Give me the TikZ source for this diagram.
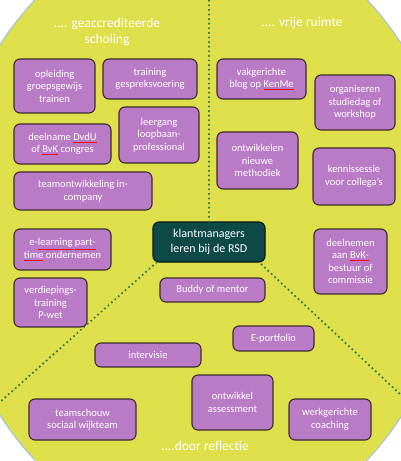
\documentclass[tikz,border=0pt]{standalone}
\usepackage{fontspec}
\setmainfont{Carlito}
\definecolor{bgyellow}{HTML}{DEDF4B}
\definecolor{edgeblue}{HTML}{9CC3E5}
\definecolor{boxpurple}{HTML}{B97BC5}
\definecolor{boxedge}{HTML}{3B2B2E}
\definecolor{centerteal}{HTML}{0D4A47}
\definecolor{dotgreen}{HTML}{2F7A4A}
\newcommand\sq[1]{{\color{red}$\underline{\hbox{\color{white}#1}}$}}
\newcommand\mybox[6]{\node[pbox, minimum width={(#4-#2)*1pt}, minimum height={(#5-#3)*1pt}] (#1) at ({(#2+#4)/2},{(#3+#5)/2}) {#6};}
\begin{document}
\begin{tikzpicture}[x=1pt,y=-1pt,
  pbox/.style={draw=boxedge, line width=1.1pt, fill=boxpurple, rounded corners=6pt,
    inner sep=1pt, align=center, text=white, font=\fontsize{10.5}{12.5}\selectfont},
  cbox/.style={draw=black!70!centerteal, line width=1.1pt, fill=centerteal, rounded corners=6pt,
    inner sep=1pt, align=center, text=white, font=\fontsize{12}{15}\selectfont},
  dotline/.style={dotgreen, line width=2.4pt, line cap=round, dash pattern=on 0pt off 4.6pt},
  header/.style={text=white, align=center, font=\fontsize{13.5}{16}\selectfont}]
\useasboundingbox (0,0) rectangle (401,461);
\fill[white] (0,0) rectangle (401,461);
\begin{scope}
\clip (0,0) rectangle (401,461);
\fill[bgyellow] (201,230) ellipse [x radius=253pt, y radius=305pt];
\draw[edgeblue, line width=1pt] (201,230) ellipse [x radius=253pt, y radius=305pt];
\end{scope}

\node[cbox, minimum width=112pt, minimum height=40pt] (cb) at (209,242) {klantmanagers\\leren bij de RSD};

\coordinate (topend) at (209,0);
\coordinate (leftend) at (0,402);
\coordinate (rightend) at (401,395);
\begin{scope}
\clip (201,230) ellipse [x radius=252pt, y radius=304pt];
\draw[dotline] (cb.north) -- (topend);
\draw[dotline] ([xshift=4pt]cb.south west) -- (leftend);
\draw[dotline] ([xshift=-4pt,yshift=-2pt]cb.south east) -- (rightend);
\end{scope}

\node[header] (h1) at (107,32) {.... geaccrediteerde\\scholing};
\node[header] (h2) at (302,23) {.... vrije ruimte};
\node[header] (h3) at (205,446) {....door reflectie};

\mybox{b1}{14}{59}{95}{113}{opleiding\\groepsgewijs\\trainen}
\mybox{b2}{103}{59}{197}{99}{training\\gespreksvoering}
\mybox{b3}{14}{124}{111}{164}{deelname \sq{DvdU}\\of \sq{BvK} congres}
\mybox{b4}{119}{107}{199}{163}{leergang\\loopbaan-\\professional}
\mybox{b5}{14}{172}{152}{210}{teamontwikkeling in-\\company}
\mybox{b6}{14}{229}{111}{270}{e-\sq{learning} \sq{part-}\\\sq{time} ondernemen}
\mybox{b7}{14}{278}{87}{327}{verdiepings-\\training\\P-wet}
\mybox{b8}{217}{59}{306}{99}{vakgerichte\\blog op \sq{KenMe}}
\mybox{b9}{315}{75}{395}{130}{organiseren\\studiedag of\\workshop}
\mybox{b10}{217}{132}{298}{189}{ontwikkelen\\nieuwe\\methodiek}
\mybox{b11}{313}{148}{395}{205}{kennissessie\\voor collega's}
\mybox{b12}{314}{229}{387}{294}{deelnemen\\aan \sq{BvK-}\\bestuur of\\commissie}
\mybox{b13}{160}{278}{265}{302}{Buddy of mentor}
\mybox{b14}{233}{326}{314}{351}{E-portfolio}
\mybox{b15}{95}{343}{201}{367}{intervisie}
\mybox{b16}{192}{375}{273}{430}{ontwikkel\\assessment}
\mybox{b17}{29}{399}{136}{440}{teamschouw\\sociaal wijkteam}
\mybox{b18}{289}{399}{371}{440}{werkgerichte\\coaching}
\end{tikzpicture}
\end{document}
